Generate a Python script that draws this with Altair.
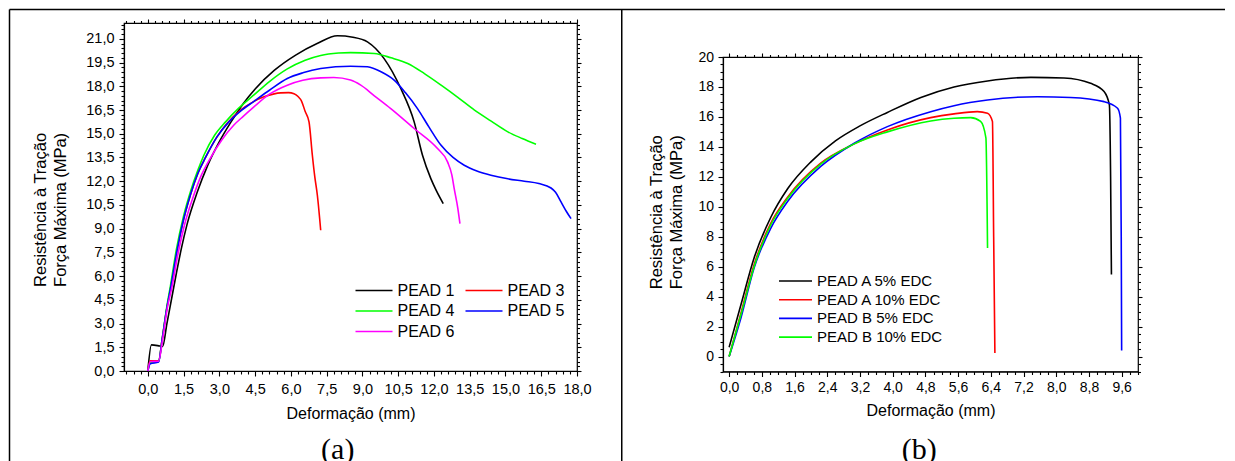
import altair as alt
import pandas as pd

FONT = "Liberation Sans"
SERIF = "Liberation Serif"
COMMA = "replace(format(datum.value, '.1f'), '.', ',')"

# ---------------- panel (a) data ----------------
# legend is filled column by column: col 1 = PEAD 1, 4, 6 ; col 2 = PEAD 3, 5
A_NAMES = ["PEAD 1", "PEAD 4", "PEAD 6", "PEAD 3", "PEAD 5"]
A_COLORS = ["#000000", "#00ff00", "#ff00ff", "#ff0000", "#0000ff"]

pead1_x = [0.0, 0.15, 0.5, 0.62, 0.8, 1.0, 1.2, 1.4, 1.65, 2.07, 2.51, 3.0, 3.47, 4.0, 4.52, 5.3, 6.2, 7.1, 7.95, 8.6, 9.21, 9.91, 10.61, 11.17, 11.52, 11.87, 12.1, 12.39]
pead1_y = [0.0, 1.65, 1.58, 1.55, 3.0, 4.6, 6.2, 7.7, 9.3, 11.3, 13.0, 14.5, 15.7, 16.9, 17.86, 19.0, 19.97, 20.7, 21.19, 21.1, 20.81, 19.75, 17.86, 15.75, 13.64, 12.16, 11.4, 10.58]

pead3_x = [0.0, 0.1, 0.45, 0.6, 0.8, 0.95, 1.2, 1.44, 1.8, 2.1, 2.42, 2.9, 3.29, 3.89, 4.4, 4.87, 5.3, 5.57, 5.9, 6.13, 6.3, 6.45, 6.6, 6.76, 6.9, 7.0, 7.11, 7.25]
pead3_y = [0.0, 0.65, 0.65, 2.0, 4.0, 5.2, 7.4, 9.2, 11.2, 12.5, 13.5, 14.8, 15.6, 16.5, 17.0, 17.33, 17.52, 17.58, 17.6, 17.53, 17.35, 17.05, 16.4, 15.75, 13.64, 12.3, 11.11, 8.9]

pead4_x = [0.0, 0.1, 0.45, 0.6, 0.8, 0.95, 1.2, 1.5, 1.8, 2.1, 2.35, 2.8, 3.26, 3.8, 4.45, 5.1, 5.85, 6.6, 7.25, 8.0, 8.5, 9.5, 10.2, 10.9, 11.6, 12.3, 13.0, 13.7, 14.4, 15.1, 15.7, 16.28]
pead4_y = [0.0, 0.5, 0.6, 2.0, 4.1, 5.4, 7.7, 9.8, 11.4, 12.7, 13.64, 14.9, 15.75, 16.6, 17.45, 18.3, 19.1, 19.65, 19.95, 20.1, 20.13, 20.07, 19.8, 19.44, 18.8, 18.07, 17.3, 16.49, 15.8, 15.12, 14.7, 14.34]

pead5_x = [0.0, 0.1, 0.45, 0.6, 0.8, 0.95, 1.2, 1.44, 1.8, 2.1, 2.42, 2.9, 3.4, 3.9, 4.45, 5.1, 5.85, 6.5, 7.25, 8.5, 9.21, 9.8, 10.33, 10.8, 11.31, 11.8, 12.29, 12.8, 13.27, 13.8, 14.39, 15.1, 15.79, 16.4, 16.91, 17.1, 17.33, 17.55, 17.75]
pead5_y = [0.0, 0.46, 0.57, 2.0, 4.0, 5.2, 7.4, 9.2, 11.2, 12.5, 13.5, 14.8, 15.75, 16.45, 17.05, 17.75, 18.49, 18.85, 19.12, 19.27, 19.23, 18.9, 18.39, 17.6, 16.59, 15.4, 14.28, 13.5, 13.01, 12.65, 12.38, 12.15, 12.0, 11.85, 11.57, 11.3, 10.69, 10.1, 9.63]

pead6_x = [0.0, 0.1, 0.45, 0.62, 0.82, 1.01, 1.25, 1.53, 1.9, 2.25, 2.6, 3.1, 3.61, 4.0, 4.45, 5.1, 5.85, 6.5, 7.25, 7.8, 8.5, 8.93, 9.5, 10.19, 11.17, 12.15, 12.57, 12.75, 12.85, 13.0, 13.09]
pead6_y = [0.0, 0.6, 0.62, 2.0, 4.0, 5.3, 7.3, 9.2, 11.0, 12.4, 13.4, 14.6, 15.55, 16.1, 16.7, 17.5, 18.07, 18.38, 18.53, 18.55, 18.39, 18.07, 17.4, 16.59, 15.33, 14.06, 13.22, 12.4, 11.53, 10.3, 9.32]

A_SERIES_X = {"PEAD 1": pead1_x, "PEAD 3": pead3_x, "PEAD 4": pead4_x, "PEAD 5": pead5_x, "PEAD 6": pead6_x}
A_SERIES_Y = {"PEAD 1": pead1_y, "PEAD 3": pead3_y, "PEAD 4": pead4_y, "PEAD 5": pead5_y, "PEAD 6": pead6_y}

A_X_TICKS = [0.0, 1.5, 3.0, 4.5, 6.0, 7.5, 9.0, 10.5, 12.0, 13.5, 15.0, 16.5, 18.0]
A_Y_TICKS = [0.0, 1.5, 3.0, 4.5, 6.0, 7.5, 9.0, 10.5, 12.0, 13.5, 15.0, 16.5, 18.0, 19.5, 21.0]

# ---------------- panel (b) data ----------------
B_NAMES = ["PEAD A 5% EDC", "PEAD A 10% EDC", "PEAD B 5% EDC", "PEAD B 10% EDC"]
B_COLORS = ["#000000", "#ff0000", "#0000ff", "#00ff00"]

a5_x = [0.0, 0.29, 0.61, 1.02, 1.43, 2.0, 2.6, 3.2, 3.87, 4.69, 5.5, 6.32, 7.38, 8.19, 8.84, 9.17, 9.3, 9.33, 9.35]
a5_y = [0.62, 3.47, 6.58, 9.3, 11.2, 13.0, 14.4, 15.4, 16.3, 17.3, 18.0, 18.4, 18.64, 18.6, 18.24, 17.69, 16.8, 12.0, 5.47]

a10_x = [0.0, 0.29, 0.61, 1.02, 1.43, 2.24, 3.06, 3.87, 4.93, 5.5, 6.07, 6.32, 6.44, 6.47, 6.5]
a10_y = [0.0, 2.91, 6.13, 8.91, 10.64, 12.91, 14.2, 15.13, 15.95, 16.2, 16.35, 16.24, 15.69, 8.0, 0.24]

b5_x = [0.0, 0.29, 0.61, 1.02, 1.43, 2.24, 3.06, 3.87, 4.93, 5.5, 6.32, 7.54, 8.35, 9.17, 9.5, 9.57, 9.59, 9.6]
b5_y = [0.0, 2.59, 5.91, 8.58, 10.35, 12.69, 14.24, 15.35, 16.35, 16.75, 17.13, 17.35, 17.3, 17.02, 16.58, 15.92, 8.0, 0.4]

b10_x = [0.0, 0.29, 0.61, 1.02, 1.43, 2.24, 3.06, 3.87, 4.93, 5.5, 5.91, 6.15, 6.28, 6.32]
b10_y = [0.0, 2.8, 6.0, 8.8, 10.55, 12.85, 14.2, 15.0, 15.73, 15.91, 15.95, 15.7, 14.6, 7.24]

B_X_TICKS = [0.0, 0.8, 1.6, 2.4, 3.2, 4.0, 4.8, 5.6, 6.4, 7.2, 8.0, 8.8, 9.6]
B_Y_TICKS = [0, 2, 4, 6, 8, 10, 12, 14, 16, 18, 20]

Y_TITLE = ["Resistência à Tração", "Força Máxima (MPa)"]
X_TITLE = "Deformação (mm)"


def build(names, xs, ys):
    rows = []
    for n, xx, yy in zip(names, xs, ys):
        for i, (a, b) in enumerate(zip(xx, yy)):
            rows.append({"s": n, "x": a, "y": b, "i": i})
    return pd.DataFrame(rows)


A_DRAW = ["PEAD 1", "PEAD 3", "PEAD 4", "PEAD 5", "PEAD 6"]
df_a = build(A_DRAW, [A_SERIES_X[n] for n in A_DRAW], [A_SERIES_Y[n] for n in A_DRAW])
df_b = build(B_NAMES, [a5_x, a10_x, b5_x, b10_x], [a5_y, a10_y, b5_y, b10_y])

# minor tick positions (axis configuration only)
a_x_minor = [round(k * 0.3, 2) for k in range(-3, 61) if k % 5 != 0]
a_y_minor = [round(k * 0.3, 2) for k in range(0, 74) if k % 5 != 0]
b_x_minor = [round(k * 0.2, 2) for k in range(0, 51) if k % 4 != 0]
b_y_minor = [round(k * 0.5, 2) for k in range(-2, 41) if k % 4 != 0]

AX = dict(labelFont=FONT, labelColor="black", tickColor="black", domainColor="black",
          tickWidth=1.1, domainWidth=1.2, grid=False, labelFlush=False, labelOverlap=False)
TT = dict(titleFont=FONT, titleColor="black", titleFontWeight="normal")


def tick_layer(xscale, yscale, xdom, ydom, xorient, yorient, xvals, yvals, size):
    d = pd.DataFrame({"x": [xdom[0]], "y": [ydom[0]]})
    return alt.Chart(d).mark_point(opacity=0).encode(
        x=alt.X("x:Q", scale=xscale, axis=alt.Axis(orient=xorient, values=xvals, labels=False,
                                                   domain=False, tickSize=size, title=None, **AX)),
        y=alt.Y("y:Q", scale=yscale, axis=alt.Axis(orient=yorient, values=yvals, labels=False,
                                                   domain=False, tickSize=size, title=None, **AX)),
    )


# ---------------- panel (a) ----------------
W_A, H_A = 453, 348
XA_DOM, YA_DOM = [-1, 18], [0, 22]
xa = alt.Scale(domain=XA_DOM, nice=False, zero=False)
ya = alt.Scale(domain=YA_DOM, nice=False, zero=False)

curves_a = alt.Chart(df_a).mark_line(strokeWidth=1.6, interpolate="monotone").encode(
    x=alt.X("x:Q", scale=xa, axis=alt.Axis(orient="bottom", values=A_X_TICKS, labelExpr=COMMA,
                                           tickSize=5, labelPadding=6, labelFontSize=14.5,
                                           title=X_TITLE, titleFontSize=16, titleY=34.3, **AX, **TT)),
    y=alt.Y("y:Q", scale=ya, axis=alt.Axis(orient="left", values=A_Y_TICKS, labelExpr=COMMA,
                                           tickSize=5, labelPadding=5, labelFontSize=14.5,
                                           title=Y_TITLE, titleFontSize=16.5, titleLineHeight=20,
                                           titleAngle=270, titleBaseline="bottom",
                                           titleX=-75.2, titleY=186.4, **AX, **TT)),
    color=alt.Color("s:N", scale=alt.Scale(domain=A_NAMES, range=A_COLORS),
                    legend=alt.Legend(orient="none", legendX=242, legendY=259.5, columns=2,
                                      title=None, symbolType="M-3.7,0H3.7", symbolSize=100,
                                      symbolStrokeWidth=1.6, labelFont=FONT, labelFontSize=16,
                                      labelColor="black", labelOffset=15.5, columnPadding=7,
                                      rowPadding=4.5, padding=0)),
)

minor_a = tick_layer(xa, ya, XA_DOM, YA_DOM, "bottom", "left", a_x_minor, a_y_minor, 3)
top_major_a = tick_layer(xa, ya, XA_DOM, YA_DOM, "top", "right", A_X_TICKS, A_Y_TICKS, 4)
top_minor_a = tick_layer(xa, ya, XA_DOM, YA_DOM, "top", "right", a_x_minor, a_y_minor, 2.5)

bd = pd.DataFrame({"k": [0]})
top_line = alt.Chart(bd).mark_rule(color="black", strokeWidth=1.5).encode(
    x=alt.value(-114.5), x2=alt.value(1101), y=alt.value(-13.5))
left_line = alt.Chart(bd).mark_rule(color="black", strokeWidth=1.5).encode(
    x=alt.value(-114.5), y=alt.value(-13.5), y2=alt.value(438.5))
mid_line = alt.Chart(bd).mark_rule(color="black", strokeWidth=1.5).encode(
    x=alt.value(497.75), y=alt.value(-13.5), y2=alt.value(438.5))
cap_a = alt.Chart(bd).mark_text(font=SERIF, fontSize=30, align="center", baseline="alphabetic",
                                color="black").encode(
    x=alt.value(213.75), y=alt.value(436), text=alt.value("(a)"))

panel_a = alt.layer(curves_a, minor_a, top_major_a, top_minor_a, top_line, left_line, mid_line, cap_a
                    ).resolve_axis(x="independent", y="independent").properties(
    width=W_A, height=H_A, view=alt.ViewBackground(stroke="black", strokeWidth=1.2))

# ---------------- panel (b) ----------------
W_B, H_B = 415, 314.5
XB_DOM, YB_DOM = [-0.15, 10.0], [-1, 20]
xb = alt.Scale(domain=XB_DOM, nice=False, zero=False)
yb = alt.Scale(domain=YB_DOM, nice=False, zero=False)

curves_b = alt.Chart(df_b).mark_line(strokeWidth=1.6, interpolate="monotone").encode(
    x=alt.X("x:Q", scale=xb, axis=alt.Axis(orient="bottom", values=B_X_TICKS, labelExpr=COMMA,
                                           tickSize=5, labelPadding=4, labelFontSize=14,
                                           title=X_TITLE, titleFontSize=16, titleY=31.2, **AX, **TT)),
    y=alt.Y("y:Q", scale=yb, axis=alt.Axis(orient="left", values=B_Y_TICKS,
                                           labelExpr="format(datum.value, 'd')",
                                           tickSize=5, labelPadding=4.5, labelFontSize=14,
                                           title=Y_TITLE, titleFontSize=16.5, titleLineHeight=20,
                                           titleAngle=270, titleBaseline="bottom",
                                           titleX=-58.3, titleY=154.75, **AX, **TT)),
    color=alt.Color("s:N", scale=alt.Scale(domain=B_NAMES, range=B_COLORS),
                    legend=alt.Legend(orient="none", legendX=65, legendY=250.5,
                                      title=None, symbolType="M-3.3,0H3.3", symbolSize=100,
                                      symbolStrokeWidth=1.6, labelFont=FONT, labelFontSize=15,
                                      labelColor="black", labelOffset=14,
                                      rowPadding=2.7, padding=0)),
)

minor_b = tick_layer(xb, yb, XB_DOM, YB_DOM, "bottom", "left", b_x_minor, b_y_minor, 3)
top_major_b = tick_layer(xb, yb, XB_DOM, YB_DOM, "top", "right", B_X_TICKS, B_Y_TICKS, 4)
top_minor_b = tick_layer(xb, yb, XB_DOM, YB_DOM, "top", "right", b_x_minor, b_y_minor, 2.5)
cap_b = alt.Chart(bd).mark_text(font=SERIF, fontSize=30, align="center", baseline="alphabetic",
                                color="black").encode(
    x=alt.value(196.25), y=alt.value(402.4), text=alt.value("(b)"))

panel_b = alt.layer(curves_b, minor_b, top_major_b, top_minor_b, cap_b
                    ).resolve_axis(x="independent", y="independent").properties(
    width=W_B, height=H_B, view=alt.ViewBackground(stroke="black", strokeWidth=1.2))

spacer = alt.Chart(bd).mark_point(opacity=0).encode(
    x=alt.X("k:Q", axis=None), y=alt.Y("k:Q", axis=None)
).properties(width=W_B, height=33.5, view=alt.ViewBackground(stroke="transparent"))

right_col = alt.vconcat(spacer, panel_b, spacing=0, bounds="flush")

chart = alt.hconcat(panel_a, right_col, spacing=146, bounds="flush").resolve_scale(
    color="independent").properties(padding=0).configure_view(stroke="transparent")

chart.save("out.html", embed_options={"renderer": "svg", "actions": False})
